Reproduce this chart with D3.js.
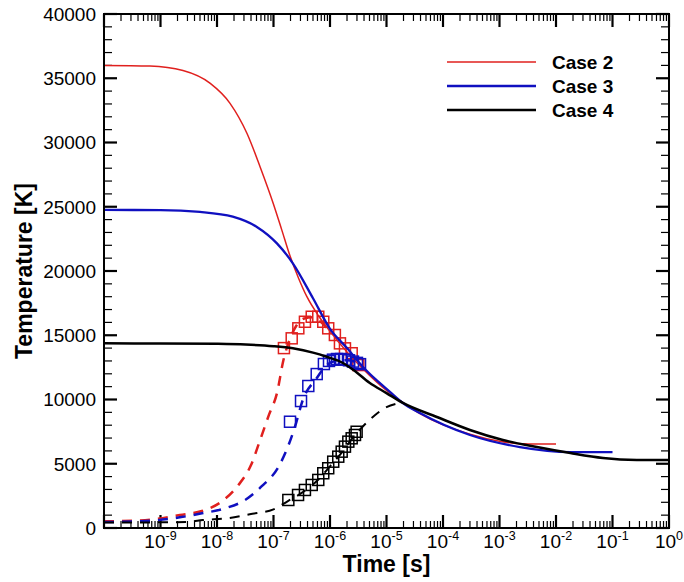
<!DOCTYPE html>
<html>
<head>
<meta charset="utf-8">
<script src="https://cdn.jsdelivr.net/npm/d3@7"></script>
<style>
    body { margin: 0; background: #fff; }
    text { font-family: "Liberation Sans", Arial, sans-serif; }
</style>
</head>
<body>
<div id="chart"></div>
<script>

// ---- data: [time in s, temperature in K] ----

// solid lines (translational temperature)
const case2Solid = [[1e-10, 36000], [6.5e-10, 35950], [2.5e-9, 35600], [7.6e-9, 34600], [1.7e-8, 33050],
    [3.4e-8, 30700], [5.8e-8, 28100], [1e-7, 25200], [1.4e-7, 23200], [1.95e-7, 21200], [2.8e-7, 19400],
    [3.9e-7, 18000], [6.3e-7, 16500], [1e-6, 15300], [2e-6, 13700], [4e-6, 12300], [1e-5, 10700],
    [1.95e-5, 9750], [3.9e-5, 8900], [3e-4, 7300], [1e-3, 6750], [2.5e-3, 6550], [5e-3, 6540], [1e-2, 6540]];
const case3Solid = [[1e-10, 24750], [1e-9, 24740], [5e-9, 24600], [1.9e-8, 24230], [5e-8, 23450],
    [1.15e-7, 22150], [2.2e-7, 20600], [5e-7, 17880], [1e-6, 15500], [2e-6, 14000], [3.8e-6, 12550],
    [6.3e-6, 11600], [1.15e-5, 10600], [1.95e-5, 9730], [3.9e-5, 8950], [3e-4, 7240], [2.3e-3, 6300],
    [1.8e-2, 5910], [1e-1, 5910]];
const case4Solid = [[1e-10, 14370], [1e-9, 14360], [1e-8, 14330], [3.2e-8, 14280], [1e-7, 14150],
    [2.2e-7, 13980], [5e-7, 13650], [8.7e-7, 13330], [1.6e-6, 12900], [2.6e-6, 12300], [5e-6, 11300],
    [1e-5, 10500], [1.95e-5, 9730], [7.8e-5, 8640], [3e-4, 7630], [1.15e-3, 6850], [4.6e-3, 6300],
    [1.8e-2, 5830], [6.8e-2, 5450], [2.7e-1, 5300], [1, 5290]];

// dashed lines
const case2Dashed = [[1e-10, 520], [3.2e-10, 560], [8.5e-10, 700], [2.2e-9, 1010], [5.4e-9, 1320],
    [1.2e-8, 2050], [2.4e-8, 3350], [4e-8, 4900], [5.8e-8, 6850], [8.3e-8, 8800], [1.15e-7, 10480],
    [1.5e-7, 13070], [1.95e-7, 14700], [2.5e-7, 15700], [3.5e-7, 16300], [5e-7, 16400], [7e-7, 16000],
    [1e-6, 15300]];
const case3Dashed = [[1e-10, 470], [3.2e-10, 500], [8.5e-10, 600], [2.2e-9, 830], [5.4e-9, 1140],
    [1.3e-8, 1500], [3.2e-8, 2200], [6.2e-8, 3250], [1.23e-7, 4770], [1.8e-7, 6330], [2.4e-7, 7880],
    [3.3e-7, 9960], [5.8e-7, 11650], [8.7e-7, 12680], [1.26e-6, 13000], [2e-6, 13050], [3.2e-6, 12850]];
const case4Dashed = [[1e-10, 420], [1e-9, 440], [3.2e-9, 480], [5.6e-9, 620], [1.5e-8, 750],
    [3.8e-8, 1070], [1e-7, 1450], [1.8e-7, 2100], [3.2e-7, 2750], [6.3e-7, 3800], [1e-6, 4800],
    [1.6e-6, 5850], [2.5e-6, 7000], [4e-6, 8000], [6.3e-6, 8800], [1e-5, 9400], [1.6e-5, 9700]];

// square symbols
const case2Points = [[1.53e-7, 14000], [2.1e-7, 14760], [2.75e-7, 15540], [3.6e-7, 16050], [4.75e-7, 16440],
    [6.2e-7, 16440], [7.6e-7, 16050], [9.3e-7, 15540], [1.22e-6, 15020], [1.5e-6, 14370], [1.84e-6, 13980],
    [2.42e-6, 13600], [3.17e-6, 12680]];
const case3Points = [[1.96e-7, 8270], [3.07e-7, 9880], [4.13e-7, 11050], [5.82e-7, 11980], [7.8e-7, 12760],
    [9.6e-7, 13000], [1.13e-6, 13100], [1.33e-6, 13150], [1.57e-6, 13150], [1.84e-6, 13100], [2.17e-6, 13050],
    [2.55e-6, 12950], [3e-6, 12850], [3.4e-6, 12750]];
const case4Points = [[1.83e-7, 2180], [2.72e-7, 2570], [3.6e-7, 2960], [4.75e-7, 3350], [6.2e-7, 3740],
    [7.6e-7, 4260], [9.3e-7, 4650], [1.14e-6, 5160], [1.4e-6, 5550], [1.61e-6, 5940], [1.84e-6, 6330],
    [2.11e-6, 6720], [2.42e-6, 6980], [2.77e-6, 7240], [2.96e-6, 7490]];

const caseNames = ['Case 2', 'Case 3', 'Case 4'];
const yTickValues = [0, 5000, 10000, 15000, 20000, 25000, 30000, 35000, 40000];
const xLabelExponents = [-9, -8, -7, -6, -5, -4, -3, -2, -1, 0];

// ---- drawing ----

const width = 684, height = 582;
const plot = {left: 104, right: 669, top: 14, bottom: 528};

const colors = ['#e0201e', '#1010c0', '#000000'];
const solidWidths = [1.5, 2.3, 2.5];

const svg = d3.select('#chart').append('svg')
    .attr('width', width)
    .attr('height', height);

const x = d3.scaleLog().domain([1e-10, 1]).range([plot.left, plot.right]);
const y = d3.scaleLinear().domain([0, 40000]).range([plot.bottom, plot.top]);

// tick positions
let xMinor = [];
for (let e = -10; e < 0; e++) {
    for (let k = 2; k <= 9; k++) xMinor.push(k * Math.pow(10, e));
}
let xMajor = d3.range(-10, 1).map(e => Math.pow(10, e));
let yMinor = d3.range(0, 40001, 1000).filter(v => v % 5000 !== 0);

const ticks = svg.append('g').attr('stroke', '#000');

// inward ticks on all four sides
function xTicks(values, len, sw) {
    ticks.append('g').selectAll('line').data(values).enter().append('line')
        .attr('x1', d => x(d)).attr('x2', d => x(d))
        .attr('y1', plot.bottom).attr('y2', plot.bottom - len).attr('stroke-width', sw);
    ticks.append('g').selectAll('line').data(values).enter().append('line')
        .attr('x1', d => x(d)).attr('x2', d => x(d))
        .attr('y1', plot.top).attr('y2', plot.top + len).attr('stroke-width', sw);
}
function yTicks(values, len, sw) {
    ticks.append('g').selectAll('line').data(values).enter().append('line')
        .attr('y1', d => y(d)).attr('y2', d => y(d))
        .attr('x1', plot.left).attr('x2', plot.left + len).attr('stroke-width', sw);
    ticks.append('g').selectAll('line').data(values).enter().append('line')
        .attr('y1', d => y(d)).attr('y2', d => y(d))
        .attr('x1', plot.right).attr('x2', plot.right - len).attr('stroke-width', sw);
}
xTicks(xMinor, 7, 1.2);
xTicks(xMajor, 13, 2.2);
yTicks(yMinor, 8, 1.2);
yTicks(yTickValues, 13, 2.2);

// tick labels
svg.append('g').selectAll('text').data(yTickValues).enter().append('text')
    .attr('x', plot.left - 8)
    .attr('y', d => y(d))
    .attr('dy', '0.36em')
    .attr('text-anchor', 'end')
    .attr('font-size', 19)
    .text(d => d);

let xl = svg.append('g').selectAll('text').data(xLabelExponents).enter().append('text')
    .attr('x', d => x(Math.pow(10, d)))
    .attr('y', 548)
    .attr('text-anchor', 'middle')
    .attr('font-size', 19);
xl.append('tspan').text('10');
xl.append('tspan').attr('font-size', 12.5).attr('dy', -8).text(d => d);

// axis titles
svg.append('text')
    .attr('x', (plot.left + plot.right) / 2)
    .attr('y', 572)
    .attr('text-anchor', 'middle')
    .attr('font-size', 23)
    .attr('font-weight', 'bold')
    .text('Time [s]');

svg.append('text')
    .attr('transform', 'translate(32,' + ((plot.top + plot.bottom) / 2) + ') rotate(-90)')
    .attr('text-anchor', 'middle')
    .attr('font-size', 23)
    .attr('font-weight', 'bold')
    .text('Temperature [K]');

// curves
const line = d3.line()
    .x(d => x(d[0]))
    .y(d => y(d[1]))
    .curve(d3.curveMonotoneX);

const solids = [case2Solid, case3Solid, case4Solid];
const dashes = [case2Dashed, case3Dashed, case4Dashed];
const points = [case2Points, case3Points, case4Points];
const sq = 11;

for (let i = 0; i < 3; i++) {
    svg.append('path')
        .attr('d', line(solids[i]))
        .attr('fill', 'none')
        .attr('stroke', colors[i])
        .attr('stroke-width', solidWidths[i]);

    svg.append('path')
        .attr('d', line(dashes[i]))
        .attr('fill', 'none')
        .attr('stroke', colors[i])
        .attr('stroke-width', i === 2 ? 2 : 2.5)
        .attr('stroke-dasharray', '10,8');

    svg.append('g').selectAll('rect').data(points[i]).enter().append('rect')
        .attr('x', d => x(d[0]) - sq / 2)
        .attr('y', d => y(d[1]) - sq / 2)
        .attr('width', sq)
        .attr('height', sq)
        .attr('fill', 'none')
        .attr('stroke', colors[i])
        .attr('stroke-width', 1.5);
}

// frame
svg.append('rect')
    .attr('x', plot.left).attr('y', plot.top)
    .attr('width', plot.right - plot.left).attr('height', plot.bottom - plot.top)
    .attr('fill', 'none')
    .attr('stroke', '#000')
    .attr('stroke-width', 2);

// legend
const legend = svg.append('g').selectAll('g').data(caseNames).enter().append('g')
    .attr('transform', (d, i) => 'translate(0,' + (62 + i * 24) + ')');
legend.append('line')
    .attr('x1', 447).attr('x2', 536)
    .attr('stroke', (d, i) => colors[i])
    .attr('stroke-width', (d, i) => solidWidths[i]);
legend.append('text')
    .attr('x', 552)
    .attr('y', 6.5)
    .attr('font-size', 19)
    .attr('font-weight', 'bold')
    .text(d => d);

</script>
</body>
</html>
